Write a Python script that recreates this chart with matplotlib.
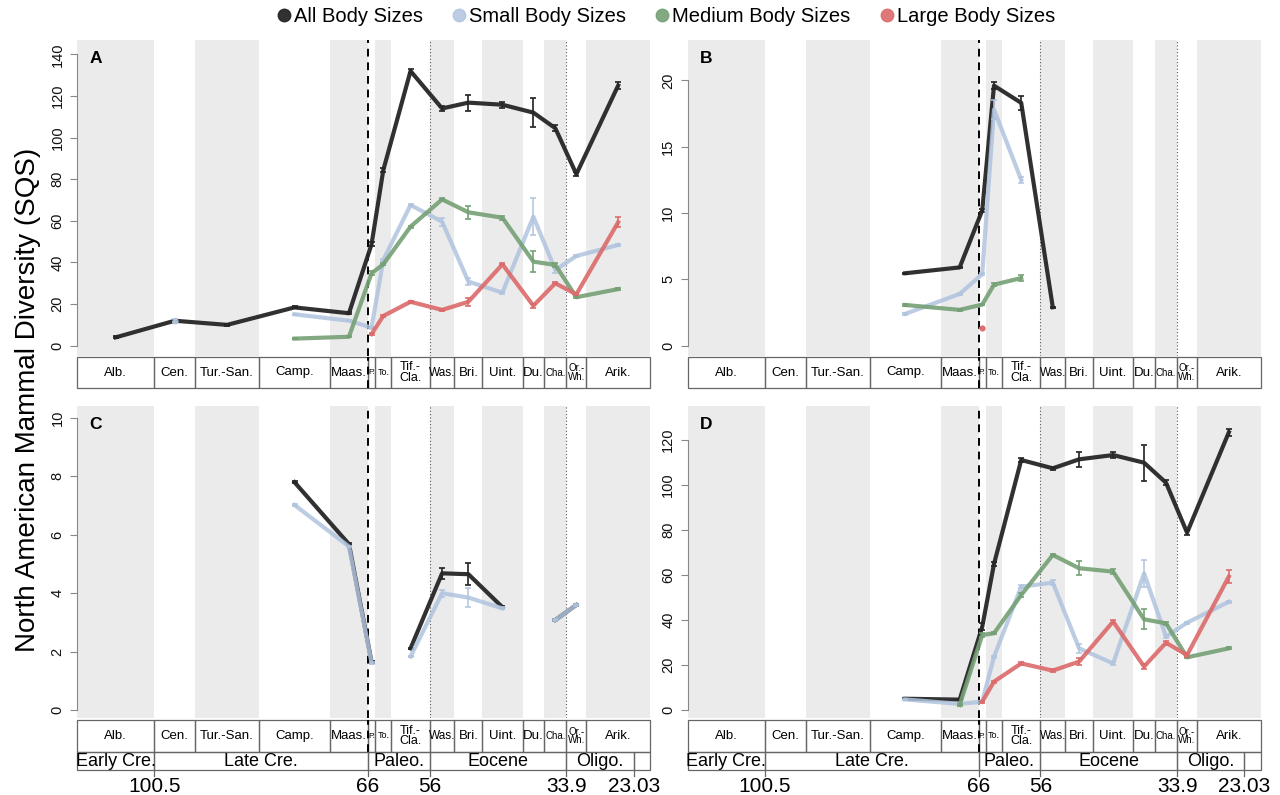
import numpy as np
import matplotlib.pyplot as plt
from matplotlib.lines import Line2D
from matplotlib.patches import Rectangle

plt.rcParams['font.family'] = ['Liberation Sans', 'DejaVu Sans']

nan = np.nan

# North American land mammal ages / stages (Ma)
stage_names = ['Alb.', 'Cen.', 'Tur.-San.', 'Camp.', 'Maas.', 'P.', 'To.', 'Tif.-\nCla.',
               'Was.', 'Bri.', 'Uint.', 'Du.', 'Cha.', 'Or.-\nWh.', 'Arik.']
stage_bounds = [113.0, 100.5, 93.9, 83.6, 72.1, 66.0, 64.8, 62.2, 56.0,
                52.0, 47.5, 41.0, 37.5, 33.9, 30.7, 20.4]
stage_fs = [9.5, 9.5, 9.5, 9.5, 9.5, 6, 6.5, 9, 8.5, 9.5, 9.5, 9.5, 7, 7, 9.5]

epoch_names = ['Early Cre.', 'Late Cre.', 'Paleo.', 'Eocene', 'Oligo.', '']
epoch_bounds = [113.0, 100.5, 66.0, 56.0, 33.9, 23.03, 20.4]
boundary_ages = [100.5, 66, 56, 33.9, 23.03]
boundary_labels = ['100.5', '66', '56', '33.9', '23.03']

# A: all occurrences
a_all = [4.0, 12.0, 10.0, 18.4, 15.6, 48.7, 84.4, 132, 114, 116.8, 115.8, 112, 104.5, 82.4, 125]
a_all_err = [0.5, 0.5, 0.3, 0.5, 0.5, 1, 1, 1, 1, 3.8, 1.5, 7, 1.5, 1, 1.5]
a_small = [nan, 12.0, nan, 15.1, 12.0, 8.7, 41.2, 67.6, 59.6, 30.8, 25.5, 62, 36.4, 43.1, 48.4]
a_small_err = [0, 0.8, 0, 0.3, 0.3, 0.5, 0.5, 0.5, 2, 1.5, 0.5, 9, 1.5, 0.5, 0.5]
a_medium = [nan, nan, nan, 3.4, 4.3, 34.8, 39.1, 57.2, 70.3, 64.1, 61.5, 40.4, 38.8, 23.3, 27.2]
a_medium_err = [0, 0, 0, 0.3, 0.3, 1, 0.5, 0.5, 0.5, 3, 1, 5, 1, 0.5, 0.5]
a_large = [nan, nan, nan, nan, nan, 5.6, 14.3, 21.1, 17.2, 21.1, 39.1, 19.2, 30, 24.7, 59.3]
a_large_err = [0, 0, 0, 0, 0, 0.5, 0.5, 0.5, 0.5, 1.8, 0.5, 1, 0.5, 0.5, 2.5]

# B
b_all = [nan, nan, nan, 5.46, 5.9, 10.2, 19.6, 18.3, 2.9, nan, nan, nan, nan, nan, nan]
b_all_err = [0, 0, 0, 0.05, 0.05, 0.1, 0.25, 0.5, 0.05, 0, 0, 0, 0, 0, 0]
b_small = [nan, nan, nan, 2.4, 3.9, 5.4, 17.8, 12.5, nan, nan, nan, nan, nan, nan, nan]
b_small_err = [0, 0, 0, 0.05, 0.05, 0.1, 0.7, 0.2, 0, 0, 0, 0, 0, 0, 0]
b_medium = [nan, nan, nan, 3.07, 2.7, 3.1, 4.6, 5.1, nan, nan, nan, nan, nan, nan, nan]
b_medium_err = [0, 0, 0, 0.05, 0.05, 0.05, 0.1, 0.25, 0, 0, 0, 0, 0, 0, 0]
b_large = [nan, nan, nan, nan, nan, 1.36, nan, nan, nan, nan, nan, nan, nan, nan, nan]
b_large_err = [0] * 15

# C
c_all = [nan, nan, nan, 7.8, 5.68, 1.65, nan, 2.11, 4.68, 4.65, 3.52, nan, 3.08, 3.6, nan]
c_all_err = [0, 0, 0, 0.03, 0.03, 0.03, 0, 0.03, 0.19, 0.38, 0.03, 0, 0.03, 0.03, 0]
c_small = [nan, nan, nan, 7.02, 5.6, 1.62, nan, 1.83, 4.0, 3.85, 3.48, nan, 3.08, 3.6, nan]
c_small_err = [0, 0, 0, 0.03, 0.03, 0.03, 0, 0.03, 0.12, 0.34, 0.03, 0, 0.03, 0.03, 0]
c_medium = [nan] * 15
c_medium_err = [0] * 15
c_large = [nan] * 15
c_large_err = [0] * 15

# D
d_all = [nan, nan, nan, 5.0, 4.6, 37.0, 64.9, 111.1, 107.4, 111.4, 113.3, 109.9, 101, 78.8, 123.4]
d_all_err = [0, 0, 0, 0.3, 0.3, 1.5, 0.8, 0.8, 0.8, 3.3, 1.5, 8, 1, 1, 1.5]
d_small = [nan, nan, nan, 4.7, 2.7, 3.7, 23.7, 54.8, 56.6, 27.4, 20.7, 60.7, 32.6, 38.8, 48.1]
d_small_err = [0, 0, 0, 0.3, 0.3, 0.3, 0.5, 0.8, 1.2, 2, 0.5, 6, 0.8, 0.5, 0.5]
d_medium = [nan, nan, nan, nan, 2.2, 33.3, 34.1, 51.1, 68.9, 63, 61.5, 40.3, 38.5, 23.4, 27.4]
d_medium_err = [0, 0, 0, 0, 0.3, 1, 0.5, 0.8, 0.5, 3, 1, 4.5, 0.8, 0.5, 0.5]
d_large = [nan, nan, nan, nan, nan, 3.7, 12.6, 20.7, 17.5, 21.5, 39.3, 19.3, 29.9, 24.4, 59.3]
d_large_err = [0, 0, 0, 0, 0, 0.5, 0.5, 0.5, 0.5, 1.5, 0.5, 1, 0.8, 0.8, 3]

colors = {'all': '#262626', 'small': '#b0c4de', 'medium': '#74a074', 'large': '#dc6a6a'}
alphas = {'all': 0.95, 'small': 0.85, 'medium': 0.9, 'large': 0.9}
labels = {'all': 'All Body Sizes', 'small': 'Small Body Sizes',
          'medium': 'Medium Body Sizes', 'large': 'Large Body Sizes'}

bounds = np.array(stage_bounds)
mids = (bounds[:-1] + bounds[1:]) / 2
XLIM = (stage_bounds[0], stage_bounds[-1])

W, H = 1280, 795


def fig_rect(x0, y0, x1, y1):
    return [x0 / W, 1 - y1 / H, (x1 - x0) / W, (y1 - y0) / H]


def draw_panel(ax, series, ylim, yticks, letter):
    for i in range(0, len(stage_names), 2):
        ax.axvspan(bounds[i], bounds[i + 1], color='#ebebeb', lw=0, zorder=0)
    ax.axvline(66, color='black', ls=(0, (4, 3)), lw=1.4, zorder=1)
    for t in (56, 33.9):
        ax.axvline(t, color='#555555', ls=(0, (1, 2)), lw=0.8, zorder=1)

    for key, (vals, errs) in series.items():
        v = np.array(vals, dtype=float)
        e = np.array(errs, dtype=float)
        if np.all(np.isnan(v)):
            continue
        c, a = colors[key], alphas[key]
        ax.plot(mids, v, color=c, lw=3, alpha=a, zorder=3)
        ax.errorbar(mids, v, yerr=e, fmt='none', ecolor=c, elinewidth=1.3,
                    capsize=2.5, capthick=1.3, alpha=a, zorder=3)
        prev = np.concatenate([[nan], v[:-1]])
        nxt = np.concatenate([v[1:], [nan]])
        iso = ~np.isnan(v) & np.isnan(prev) & np.isnan(nxt)
        if iso.any():
            ax.plot(mids[iso], v[iso], 'o', color=c, ms=3.5, alpha=a, zorder=3)

    ax.set_xlim(XLIM)
    ax.set_ylim(ylim)
    for s in ('top', 'right', 'bottom'):
        ax.spines[s].set_visible(False)
    ax.spines['left'].set_color('#888888')
    ax.spines['left'].set_bounds(yticks[0], yticks[-1])
    ax.set_xticks([])
    ax.set_yticks(yticks)
    ax.tick_params(axis='y', length=5, width=0.8, color='#888888', pad=4,
                   labelsize=10.5, labelcolor='#111111')
    for lab in ax.get_yticklabels():
        lab.set_rotation(90)
        lab.set_va('center')
    ax.text(0.022, 0.965, letter, transform=ax.transAxes, fontsize=12.5,
            fontweight='bold', va='top', ha='left')


def draw_stages(ax):
    ax.set_xlim(XLIM)
    ax.set_ylim(0, 1)
    ax.axis('off')
    for i, name in enumerate(stage_names):
        ax.add_patch(Rectangle((bounds[i + 1], 0), bounds[i] - bounds[i + 1], 1,
                               fill=False, edgecolor='#666666', lw=0.9, clip_on=False))
        ax.text(mids[i], 0.5, name, ha='center', va='center',
                fontsize=stage_fs[i], linespacing=0.8)
    # K-Pg boundary carried through the stage row
    ax.plot([66, 66], [0, 1], color='black', ls=(0, (4, 3)), lw=1.4, clip_on=False)


def draw_epochs(ax):
    ax.set_xlim(XLIM)
    ax.set_ylim(0, 1)
    ax.axis('off')
    for i, name in enumerate(epoch_names):
        x0, x1 = epoch_bounds[i + 1], epoch_bounds[i]
        ax.add_patch(Rectangle((x0, 0), x1 - x0, 1, fill=False,
                               edgecolor='#666666', lw=0.9, clip_on=False))
        ax.text((x0 + x1) / 2, 0.45, name, ha='center', va='center', fontsize=13)
    for t, lab in zip(boundary_ages, boundary_labels):
        ax.plot([t, t], [0, -0.35], color='#666666', lw=0.9, clip_on=False)
        ax.text(t, -0.9, lab, ha='center', va='center', fontsize=15)


fig = plt.figure(figsize=(12.8, 7.95), dpi=100)

panels = [
    ('A', 77, {'all': (a_all, a_all_err), 'small': (a_small, a_small_err),
               'medium': (a_medium, a_medium_err), 'large': (a_large, a_large_err)},
     (-4.95, 146.9), [0, 20, 40, 60, 80, 100, 120, 140], True),
    ('B', 687.7, {'all': (b_all, b_all_err), 'small': (b_small, b_small_err),
                  'medium': (b_medium, b_medium_err), 'large': (b_large, b_large_err)},
     (-0.776, 23.04), [0, 5, 10, 15, 20], True),
    ('C', 77, {'all': (c_all, c_all_err), 'small': (c_small, c_small_err),
               'medium': (c_medium, c_medium_err), 'large': (c_large, c_large_err)},
     (-0.274, 10.41), [0, 2, 4, 6, 8, 10], False),
    ('D', 687.7, {'all': (d_all, d_all_err), 'small': (d_small, d_small_err),
                  'medium': (d_medium, d_medium_err), 'large': (d_large, d_large_err)},
     (-3.56, 135.1), [0, 20, 40, 60, 80, 100, 120], False),
]

for letter, x0, series, ylim, yticks, top in panels:
    x1 = x0 + 573
    if top:
        ax = fig.add_axes(fig_rect(x0, 40, x1, 356))
        sax = fig.add_axes(fig_rect(x0, 357, x1, 388))
    else:
        ax = fig.add_axes(fig_rect(x0, 406, x1, 718))
        sax = fig.add_axes(fig_rect(x0, 720, x1, 752))
        eax = fig.add_axes(fig_rect(x0, 752, x1, 770))
        draw_epochs(eax)
    draw_panel(ax, series, ylim, yticks, letter)
    draw_stages(sax)

fig.text(0.022, 0.497, 'North American Mammal Diversity (SQS)', rotation=90,
         ha='center', va='center', fontsize=20)

handles = [Line2D([], [], ls='none', marker='o', ms=9, color=colors[k], alpha=alphas[k])
           for k in ('all', 'small', 'medium', 'large')]
fig.legend(handles, [labels[k] for k in ('all', 'small', 'medium', 'large')],
           loc='center', bbox_to_anchor=(0.519, 0.979), ncol=4, frameon=False,
           fontsize=14.5, handletextpad=0.0, columnspacing=1.3, handlelength=1.0)

fig.savefig('out.png', dpi=100)
